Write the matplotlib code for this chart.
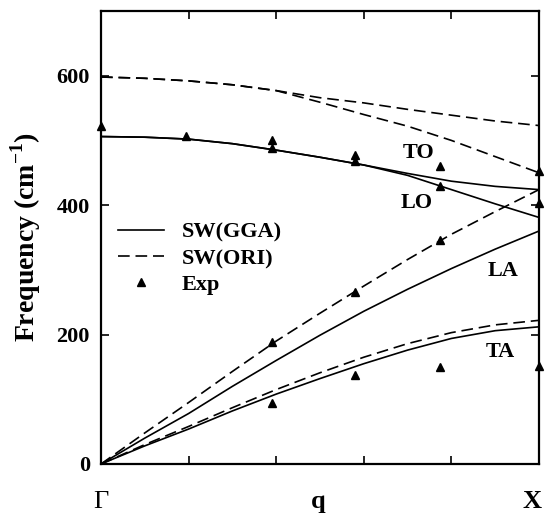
import matplotlib
matplotlib.use("Agg")
import matplotlib.pyplot as plt
import matplotlib.transforms as mtransforms

plt.rcParams['font.family'] = ['Liberation Serif', 'DejaVu Serif']
plt.rcParams['font.weight'] = 'bold'
plt.rcParams['mathtext.fontset'] = 'custom'
plt.rcParams['mathtext.rm'] = 'Liberation Serif'
plt.rcParams['mathtext.bf'] = 'Liberation Serif:bold'

# ---- data ----
q = [0.0, 0.1, 0.2, 0.3, 0.4, 0.5, 0.6, 0.7, 0.8, 0.9, 1.0]

# SW(GGA) - solid
gga_to = [506, 505, 502, 495, 485, 474, 462, 449, 437, 429, 424]
gga_lo = [506, 505, 502, 495, 485, 474, 462, 446, 424, 402, 381]
gga_la = [0, 40, 78, 120, 160, 199, 236, 270, 302, 332, 360]
gga_ta = [0, 28, 54, 82, 108, 132, 155, 176, 194, 206, 212]

# SW(ORI) - dashed
ori_to = [598, 596, 592, 586, 577, 566, 558, 548, 539, 530, 523]
ori_lo = [598, 596, 592, 586, 577, 559, 540, 522, 500, 475, 450]
ori_la = [0, 48, 95, 143, 190, 233, 275, 316, 355, 390, 424]
ori_ta = [0, 30, 58, 87, 115, 141, 165, 186, 203, 215, 222]

# Experiment
exp_q = [0.0, 0.195, 0.39, 0.39, 0.39, 0.39, 0.58, 0.58, 0.58, 0.58,
         0.775, 0.775, 0.775, 0.775, 1.0, 1.0, 1.0]
exp_f = [522, 507, 500, 488, 188, 95, 478, 468, 266, 137,
         460, 430, 346, 150, 453, 404, 151]

branch_labels = ["TO", "LO", "LA", "TA"]
branch_pos_q = [0.724, 0.721, 0.918, 0.911]
branch_pos_f = [481, 404, 299, 173]

yticks = [0, 200, 400, 600]
xticks = [0.2, 0.4, 0.6, 0.8]
point_labels = ["Γ", "q", "X"]
point_q = [0.0, 0.495, 0.985]

# ---- figure ----
fig = plt.figure(figsize=(5.47, 5.16), dpi=100)
ax = fig.add_axes([0.18464, 0.10078, 0.80073, 0.87791])

lw = 1.2
dash = (7, 3.5)
ax.plot(q, gga_to, color='black', lw=lw, label='SW(GGA)')
for s in (gga_lo, gga_la, gga_ta):
    ax.plot(q, s, color='black', lw=lw)
ax.plot(q, ori_to, color='black', lw=lw, ls=(0, dash), label='SW(ORI)')
for s in (ori_lo, ori_la, ori_ta):
    ax.plot(q, s, color='black', lw=lw, ls=(0, dash))
ax.plot(exp_q, exp_f, ls='none', marker='^', ms=6.3, color='black',
        label='Exp', clip_on=False, zorder=5)

ax.set_xlim(0, 1)
ax.set_ylim(0, 700)
ax.set_xticks(xticks)
ax.set_xticklabels([])
ax.set_yticks(yticks)
ax.set_yticklabels([str(v) for v in yticks], fontsize=16, fontweight='bold')
ax.tick_params(direction='in', length=6, width=1.2, top=True, right=True, pad=8)
for sp in ax.spines.values():
    sp.set_linewidth(1.6)

ax.set_ylabel('Frequency (cm$^{\\mathbf{-1}}$)', fontsize=20, fontweight='bold',
              labelpad=10)

for t, x, y in zip(branch_labels, branch_pos_q, branch_pos_f):
    ax.text(x, y, t, fontsize=16, fontweight='bold', ha='center', va='center')

trans = mtransforms.blended_transform_factory(ax.transData, ax.transAxes)
for t, x in zip(point_labels, point_q):
    ax.text(x, -0.098, t, transform=trans, fontsize=19,
            fontweight='normal' if t == "Γ" else 'bold',
            ha='center', va='baseline')

leg = ax.legend(loc='center left', bbox_to_anchor=(0.038, 0.453), frameon=False,
                handlelength=2.1, handletextpad=0.8,
                labelspacing=0.25, borderpad=0, borderaxespad=0,
                prop={'weight': 'bold', 'size': 16})

fig.savefig('out.png', dpi=100, facecolor='white')
